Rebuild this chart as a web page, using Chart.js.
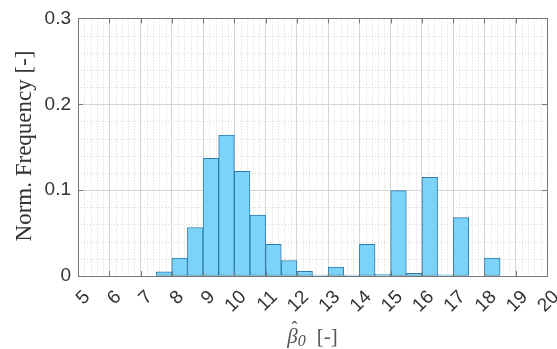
<!DOCTYPE html>
<html>
<head>
<meta charset="utf-8">
<script src="https://cdn.jsdelivr.net/npm/chart.js@4/dist/chart.umd.min.js"></script>
<style>
html,body{margin:0;padding:0;background:#fff;}
#c{display:block;}
</style>
</head>
<body>
<canvas id="c" width="557" height="349"></canvas>
<script>
// ---- data ----
const binLeftEdges = [5,5.5,6,6.5,7,7.5,8,8.5,9,9.5,10,10.5,11,11.5,12,12.5,13,13.5,14,14.5,15,15.5,16,16.5,17,17.5,18,18.5,19,19.5];
const binWidth = 0.5;
const normFrequency = [0,0,0,0,0,0.005,0.021,0.0565,0.137,0.164,0.122,0.071,0.037,0.018,0.0055,0.001,0.0105,0.001,0.037,0.002,0.0995,0.003,0.115,0.0015,0.068,0,0.021,0,0,0];
const xTickValues = [5,6,7,8,9,10,11,12,13,14,15,16,17,18,19,20];
const yTickValues = [0,0.1,0.2,0.3];
const yLabel = 'Norm. Frequency [-]';
const xLabelSymbol = 'β';
const xLabelHat = 'ˆ';
const xLabelSub = '0';
const xLabelUnit = '[-]';

const TEXT = '#333333';
const BOX = '#767676';

const decor = {
  id: 'decor',
  beforeDatasetsDraw(chart) {
    const {ctx, chartArea: a, scales: {x, y}} = chart;
    ctx.save();
    ctx.strokeStyle = '#d6d6d6';
    ctx.lineWidth = 1;
    ctx.setLineDash([1, 2]);
    for (let i = 0; i <= 75; i++) {
      const v = 5 + i * 0.2;
      if (Math.abs(v - Math.round(v)) < 1e-6) continue;
      const px = Math.round(x.getPixelForValue(v)) + 0.5;
      ctx.beginPath(); ctx.moveTo(px, a.top); ctx.lineTo(px, a.bottom); ctx.stroke();
    }
    for (let i = 0; i <= 15; i++) {
      const v = i * 0.02;
      if (i % 5 === 0) continue;
      const py = Math.round(y.getPixelForValue(v)) + 0.5;
      ctx.beginPath(); ctx.moveTo(a.left, py); ctx.lineTo(a.right, py); ctx.stroke();
    }
    ctx.restore();
  },
  afterDatasetsDraw(chart) {
    const {ctx, chartArea: a, scales: {x, y}} = chart;
    ctx.save();
    ctx.strokeStyle = BOX;
    ctx.lineWidth = 1;
    const tl = 5;
    xTickValues.forEach(v => {
      const px = Math.round(x.getPixelForValue(v)) + 0.5;
      ctx.beginPath();
      ctx.moveTo(px, a.bottom); ctx.lineTo(px, a.bottom - tl);
      ctx.moveTo(px, a.top); ctx.lineTo(px, a.top + tl);
      ctx.stroke();
    });
    yTickValues.forEach(v => {
      const py = Math.round(y.getPixelForValue(v)) + 0.5;
      ctx.beginPath();
      ctx.moveTo(a.left, py); ctx.lineTo(a.left + tl, py);
      ctx.moveTo(a.right, py); ctx.lineTo(a.right - tl, py);
      ctx.stroke();
    });
    ctx.strokeRect(Math.round(a.left) + 0.5, Math.round(a.top) + 0.5,
                   Math.round(a.right - a.left), Math.round(a.bottom - a.top));
    ctx.restore();
  },
  afterDraw(chart) {
    const {ctx, chartArea: a, scales: {x}} = chart;
    ctx.save();
    ctx.fillStyle = TEXT;
    ctx.font = '19px "Liberation Sans", Arial, sans-serif';
    ctx.textAlign = 'right';
    ctx.textBaseline = 'middle';
    xTickValues.forEach(v => {
      const px = x.getPixelForValue(v);
      ctx.save();
      ctx.translate(px + 9, a.bottom + 18);
      ctx.rotate(-Math.PI / 4);
      ctx.fillText(String(v), 0, 0);
      ctx.restore();
    });
    ctx.save();
    ctx.font = '23px "Liberation Serif", "Times New Roman", serif';
    ctx.textAlign = 'center';
    ctx.textBaseline = 'middle';
    ctx.translate(25, 146);
    ctx.rotate(-Math.PI / 2);
    ctx.fillText(yLabel, 0, 0);
    ctx.restore();
    ctx.fillStyle = '#555555';
    const fSym = 'italic 21px "Liberation Serif", "Times New Roman", serif';
    const fSub = 'italic 16px "Liberation Serif", "Times New Roman", serif';
    const fUnit = '21px "Liberation Serif", "Times New Roman", serif';
    ctx.textAlign = 'left';
    ctx.textBaseline = 'alphabetic';
    ctx.font = fSym; const w1 = ctx.measureText(xLabelSymbol).width;
    ctx.font = fSub; const w2 = ctx.measureText(xLabelSub).width;
    ctx.font = fUnit; const w3 = ctx.measureText(xLabelUnit).width;
    const gap = 11;
    const total = w1 + w2 + gap + w3;
    let sx = (a.left + a.right) / 2 - total / 2;
    const base = 343;
    ctx.font = fSym; ctx.fillText(xLabelSymbol, sx, base);
    ctx.save();
    ctx.textAlign = 'center';
    ctx.font = '18px "Liberation Serif", "Times New Roman", serif';
    ctx.fillText(xLabelHat, sx + w1 / 2 + 2, base - 9);
    ctx.restore();
    sx += w1;
    ctx.font = fSub; ctx.fillText(xLabelSub, sx, base + 3); sx += w2 + gap;
    ctx.font = fUnit; ctx.fillText(xLabelUnit, sx, base);
    ctx.restore();
  }
};

new Chart(document.getElementById('c'), {
  type: 'bar',
  data: {
    datasets: [{
      data: binLeftEdges.map((e, i) => ({x: e + binWidth / 2, y: normFrequency[i]})),
      backgroundColor: '#7cd3f9',
      borderColor: '#2e7aa8',
      borderWidth: 1,
      borderSkipped: false,
      barPercentage: 1,
      categoryPercentage: 1
    }]
  },
  options: {
    responsive: false,
    devicePixelRatio: 1,
    animation: false,
    layout: {padding: {left: 0, top: 14, right: 10, bottom: 0}},
    plugins: {legend: {display: false}, tooltip: {enabled: false}},
    scales: {
      x: {
        type: 'linear',
        min: 5, max: 20,
        offset: false,
        afterBuildTicks: s => { s.ticks = xTickValues.map(v => ({value: v})); },
        afterFit: s => { s.height = 73; },
        ticks: {display: false},
        grid: {color: '#d4d4d4', drawTicks: false, offset: false},
        border: {display: false}
      },
      y: {
        min: 0, max: 0.3,
        afterBuildTicks: s => { s.ticks = yTickValues.map(v => ({value: v})); },
        afterFit: s => { s.width = 78; },
        ticks: {
          color: TEXT,
          padding: 7,
          font: {family: '"Liberation Sans", Arial, sans-serif', size: 19},
          callback: v => String(v)
        },
        grid: {color: '#d4d4d4', drawTicks: false},
        border: {display: false}
      }
    }
  },
  plugins: [decor]
});
</script>
</body>
</html>
